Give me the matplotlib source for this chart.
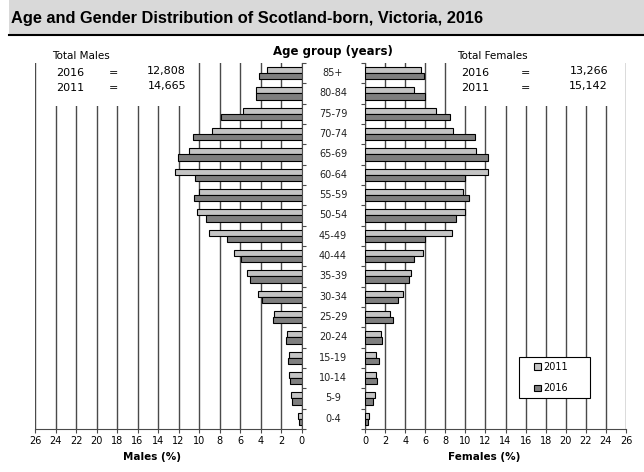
import matplotlib.pyplot as plt
import matplotlib.patches as mpatches
import numpy as np

# age groups, youngest first
ages = ["0-4", "5-9", "10-14", "15-19", "20-24", "25-29", "30-34", "35-39", "40-44",
        "45-49", "50-54", "55-59", "60-64", "65-69", "70-74", "75-79", "80-84", "85+"]

males_2011 = [0.39, 1.07, 1.24, 1.24, 1.46, 2.7, 4.26, 5.3, 6.57,
              9.0, 10.25, 9.99, 12.36, 11.0, 8.78, 5.69, 4.49, 3.36]
males_2016 = [0.23, 0.91, 1.17, 1.34, 1.53, 2.77, 3.84, 5.04, 5.92,
              7.32, 9.34, 10.48, 10.38, 12.04, 10.57, 7.9, 4.49, 4.13]
females_2011 = [0.4, 0.96, 1.13, 1.13, 1.59, 2.49, 3.75, 4.62, 5.74,
                8.67, 9.99, 9.8, 12.28, 11.06, 8.8, 7.07, 4.88, 5.54]
females_2016 = [0.33, 0.83, 1.23, 1.36, 1.69, 2.76, 3.32, 4.38, 4.91,
                6.0, 9.03, 10.39, 9.99, 12.28, 10.99, 8.5, 6.0, 5.9]

totals_m = [("2016", "12,808"), ("2011", "14,665")]
totals_f = [("2016", "13,266"), ("2011", "15,142")]

xticks = list(range(0, 27, 2))

c11 = "#c4c4c4"
c16 = "#7f7f7f"
grid_c = "#4a4a4a"
font = "DejaVu Sans"

fig = plt.figure(figsize=(6.44, 4.72), dpi=100)

# title band
fig.patches.append(mpatches.Rectangle((9 / 644, 1 - 34 / 472), 1, 34 / 472,
                                      transform=fig.transFigure, facecolor="#d9d9d9",
                                      edgecolor="none", zorder=0))
fig.add_artist(plt.Line2D([9 / 644, 1], [1 - 35 / 472, 1 - 35 / 472], color="black",
                          lw=1.5, transform=fig.transFigure))
fig.text(11 / 644, 1 - 18 / 472, "Age and Gender Distribution of Scotland-born, Victoria, 2016",
         fontsize=11.8, fontweight="bold", family=["Liberation Sans", "DejaVu Sans"],
         va="center", ha="left")

bottom = 0.0911
height = 0.7756
axm = fig.add_axes([35 / 644, bottom, 266.7 / 644, height])
axf = fig.add_axes([365 / 644, bottom, 261 / 644, height])

y = np.arange(len(ages))
bh = 0.3

for ax, d11, d16 in [(axm, males_2011, males_2016), (axf, females_2011, females_2016)]:
    ax.barh(y + bh / 2, d11, height=bh, color=c11, edgecolor="black", lw=0.8, zorder=3)
    ax.barh(y - bh / 2, d16, height=bh, color=c16, edgecolor="black", lw=0.8, zorder=3)
    ax.set_xlim(0, 26)
    ax.set_ylim(-0.5, len(ages) - 0.5)
    ax.set_xticks(xticks)
    ax.set_xticklabels([str(t) for t in xticks], fontsize=7, family=font)
    for t in xticks:
        ax.axvline(t, color=grid_c, lw=1, zorder=1)
    ax.set_yticks([])
    ax.set_yticks(np.arange(-0.5, len(ages), 1), minor=True)
    ax.tick_params(axis="y", which="minor", length=3, width=0.8, color=grid_c)
    ax.tick_params(axis="x", length=3, width=0.8, color=grid_c, pad=2)
    ax.spines["top"].set_visible(False)
    ax.spines["bottom"].set_color(grid_c)

axm.invert_xaxis()
axm.yaxis.tick_right()
axm.tick_params(axis="y", which="minor", right=True, left=False)
axm.spines["left"].set_visible(False)
axm.spines["right"].set_color(grid_c)
axf.spines["right"].set_visible(False)
axf.spines["left"].set_color(grid_c)

# white boxes behind the totals
axm.add_patch(mpatches.Rectangle((11, 15.4), 14.6, 3, facecolor="white", edgecolor="none", zorder=2))
axf.add_patch(mpatches.Rectangle((9, 15.4), 16.6, 3, facecolor="white", edgecolor="none", zorder=2))

# age labels in the middle
for i, a in enumerate(ages):
    fig.text(333 / 644, bottom + height * (i + 0.5) / len(ages), a,
             ha="center", va="center", fontsize=7, family=font, color="#222222")
fig.text(333 / 644, 1 - 52 / 472, "Age group (years)", ha="center", va="center",
         fontsize=8.5, fontweight="bold", family=font)

fig.text(152 / 644, 1 - 457 / 472, "Males (%)", ha="center", va="center",
         fontsize=7.5, fontweight="bold", family=font)
fig.text(484 / 644, 1 - 457 / 472, "Females (%)", ha="center", va="center",
         fontsize=7.5, fontweight="bold", family=font)

# totals
def totals(x0, title, rows, x_eq, x_num):
    fig.text(x0 / 644, 1 - 56 / 472, title, ha="left", va="center", fontsize=7.5, family=font)
    for k, (yr, val) in enumerate(rows):
        yy = 1 - (73 + 15 * k) / 472
        fig.text((x0 + 4) / 644, yy, yr, ha="left", va="center", fontsize=8, family=font)
        fig.text(x_eq / 644, yy, "=", ha="center", va="center", fontsize=8, family=font)
        fig.text(x_num / 644, yy + 2 / 472, val, ha="right", va="center", fontsize=8, family=font)

totals(52, "Total Males", totals_m, 114, 186)
totals(457, "Total Females", totals_f, 526, 608)

# legend with its own frame
fig.patches.append(mpatches.Rectangle((519 / 644, 1 - 398 / 472), 71 / 644, 41 / 472,
                                      transform=fig.transFigure, facecolor="white",
                                      edgecolor="black", lw=0.8, zorder=5))
handles = [mpatches.Patch(facecolor=c11, edgecolor="black", lw=0.8, label="2011"),
           mpatches.Patch(facecolor=c16, edgecolor="black", lw=0.8, label="2016")]
leg = fig.legend(handles=handles, loc="center", bbox_to_anchor=(551 / 644, 1 - 377.5 / 472),
                 bbox_transform=fig.transFigure, prop={"family": font, "size": 7},
                 handlelength=0.7, handleheight=0.7, handletextpad=0.3, labelspacing=1.2,
                 borderpad=0, borderaxespad=0, frameon=False)
leg.set_zorder(6)

fig.savefig("out.png", dpi=100)
